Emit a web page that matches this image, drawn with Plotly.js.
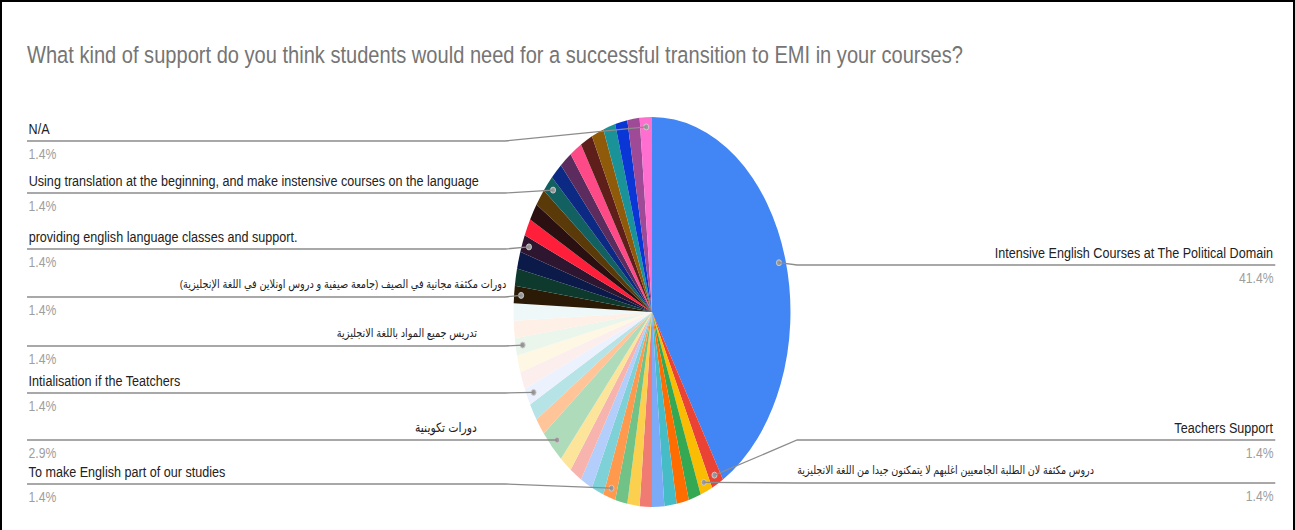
<!DOCTYPE html>
<html><head><meta charset="utf-8">
<script src="https://cdn.plot.ly/plotly-3.0.1.min.js"></script>
<style>
html,body{margin:0;padding:0;background:#fff;}
#wrap{position:relative;width:1295px;height:530px;overflow:hidden;background:#fff;}
#pie,#txt{position:absolute;left:0;top:0;transform-origin:0 0;}
#frame{position:absolute;left:0;top:0;width:1295px;height:530px;box-sizing:border-box;border:2px solid #000;border-bottom:none;pointer-events:none;}
</style></head>
<body><div id="wrap"><div id="pie"></div><div id="txt"></div><div id="frame"></div></div>
<script>
// ---------- data ----------
const chartTitle = "What kind of support do you think students would need for a successful transition to EMI in your courses?";
const categories = [
  "Intensive English Courses at The Political Domain",
  "Teachers Support",
  "دروس مكثفة لان الطلبة الجامعيين اغلبهم لا يتمكنون جيدا من اللغة الانجليزية",
  "Response 4","Response 5","Response 6","Response 7","Response 8","Response 9","Response 10",
  "To make English part of our studies",
  "Response 12","Response 13","Response 14","Response 15",
  "دورات تكوينية",
  "Response 17","Response 18",
  "Intialisation if the Teatchers",
  "Response 20","Response 21",
  "تدريس جميع المواد باللغة الانجليزية",
  "Response 23","Response 24",
  "دورات مكثفة مجانية في الصيف (جامعة صيفية و دروس اونلاين في اللغة الإنجليزية)",
  "Response 26","Response 27",
  "providing english language classes and support.",
  "Response 29","Response 30","Response 31",
  "Using translation at the beginning, and make instensive courses on the language",
  "Response 33","Response 34","Response 35","Response 36","Response 37","Response 38","Response 39","Response 40",
  "N/A"
];
const values = [29,1,1,1,1,1,1,1,1,1,1,1,1,1,1,2,1,1,1,1,1,1,1,1,1,1,1,1,1,1,1,1,1,1,1,1,1,1,1,1,1];
const colors = [
  "#4285F4","#EA4335","#FBBC04","#34A853","#FF6D01","#46BDC6","#7BAAF7","#F07B72","#FCD04F","#71C287",
  "#FF994D","#7ED1D7","#B3CEFB","#F7B4AE","#FDE49B","#AEDCBA","#FFC599","#B5E3E6","#ECF2FD","#FDEEEE",
  "#FEF7E4","#EAF5EC","#FEF0E6","#EEF8F8","#2A1A06","#0E3A2E","#0B1A48","#2E1530","#FF1F3A","#2A1010",
  "#5A3A08","#126060","#0C2A84","#5C2C5E","#FF4A88","#5E1F1A","#8F5B0B","#1A9398","#0A36D6","#9E4A96",
  "#FF6FD0"
];
// labelled slices: index, side, leader-line y, text x, text alignment, font size
const labelIdx   = [40, 31, 27, 24, 21, 18, 15, 10, 0, 1, 2];
const labelSide  = ["L","L","L","L","L","L","L","L","R","R","R"];
const labelLineY = [141,193,249,297,346,393,440,484,265,440,483];
const labelTextX = [27,27,27,508,479,27,479,27,1275,1275,795];
const labelAlign = ["left","left","left","right","right","left","right","left","right","right","left"];
const labelSize  = [15,15,15,11.6,11.6,15,13,15,15,15,11.4];

// ---------- layout constants ----------
const W = 1295, H = 530;
const PIE_SX = 0.71;      // horizontal squash of the pie picture
const TXT_SX = 0.84;      // horizontal squash of the text layer
const PIE_CX = 652, PIE_CY = 312, PIE_R = 195;
const DOT_R = 0.95 * PIE_R;
const FONT = "'Liberation Sans', Arial, 'DejaVu Sans', sans-serif";

// ---------- pie layer ----------
const PW = W / PIE_SX;
const cxU = PIE_CX / PIE_SX;
document.getElementById('pie').style.transform = 'scale(' + PIE_SX + ',1)';
Plotly.newPlot('pie', [{
  type: 'pie', labels: categories, values: values, sort: false, direction: 'clockwise', rotation: 0,
  marker: {colors: colors, line: {width: 0}}, textinfo: 'none', hoverinfo: 'none',
  domain: {x: [(cxU - PIE_R) / PW, (cxU + PIE_R) / PW], y: [(H - PIE_CY - PIE_R) / H, (H - PIE_CY + PIE_R) / H]}
}], {
  width: PW, height: H, margin: {l: 0, r: 0, t: 0, b: 0}, showlegend: false,
  paper_bgcolor: '#ffffff'
}, {staticPlot: true});

// ---------- label layer ----------
const total = values.reduce((a, b) => a + b, 0);
const cum = [];
values.reduce((acc, v, i) => { cum[i] = acc; return acc + v; }, 0);
function dotPos(i) {
  const th = 2 * Math.PI * (cum[i] + values[i] / 2) / total;
  return [PIE_CX + PIE_SX * DOT_R * Math.sin(th), PIE_CY - DOT_R * Math.cos(th)];
}
const annotations = [], shapes = [], dx = [], dy = [];
labelIdx.forEach((idx, k) => {
  const [px, py] = dotPos(idx);
  dx.push(px); dy.push(py);
  const ly = labelLineY[k];
  const pct = (values[idx] / total * 100).toFixed(1) + '%';
  let path;
  if (labelSide[k] === 'L') {
    path = `M 27,${ly} L 505,${ly} L ${px},${py}`;
  } else {
    path = `M ${px},${py} L 797,${ly} L 1275,${ly}`;
  }
  shapes.push({type: 'path', xref: 'x', yref: 'y', path: path, line: {color: '#8c8c8c', width: 1.3}});
  annotations.push({xref: 'x', yref: 'y', x: labelTextX[k], y: ly - 12.5, text: categories[idx], showarrow: false,
    xanchor: labelAlign[k], yanchor: 'middle', font: {family: FONT, size: labelSize[k], color: '#222222'}});
  annotations.push({xref: 'x', yref: 'y', x: labelSide[k] === 'L' ? 27 : 1275, y: ly + 12.5, text: pct, showarrow: false,
    xanchor: labelSide[k] === 'L' ? 'left' : 'right', yanchor: 'middle', font: {family: FONT, size: 14.5, color: '#9e9e9e'}});
});
const TW = W / TXT_SX;
document.getElementById('txt').style.transform = 'scale(' + TXT_SX + ',1)';
Plotly.newPlot('txt', [{
  type: 'scatter', mode: 'markers', x: dx, y: dy, hoverinfo: 'none',
  marker: {size: 6, color: '#9a9a9a', line: {color: '#cfcfcf', width: 1}}
}], {
  width: TW, height: H, margin: {l: 0, r: 0, t: 0, b: 0}, showlegend: false,
  paper_bgcolor: 'rgba(0,0,0,0)', plot_bgcolor: 'rgba(0,0,0,0)',
  title: {text: chartTitle, x: 27 / W, xanchor: 'left', xref: 'paper', y: 1 - 55 / H, yref: 'container', yanchor: 'middle',
    font: {family: FONT, size: 23.9, color: '#757575'}},
  xaxis: {range: [0, W], visible: false, fixedrange: true},
  yaxis: {range: [H, 0], visible: false, fixedrange: true},
  shapes: shapes, annotations: annotations
}, {staticPlot: true});
</script>
</body></html>
